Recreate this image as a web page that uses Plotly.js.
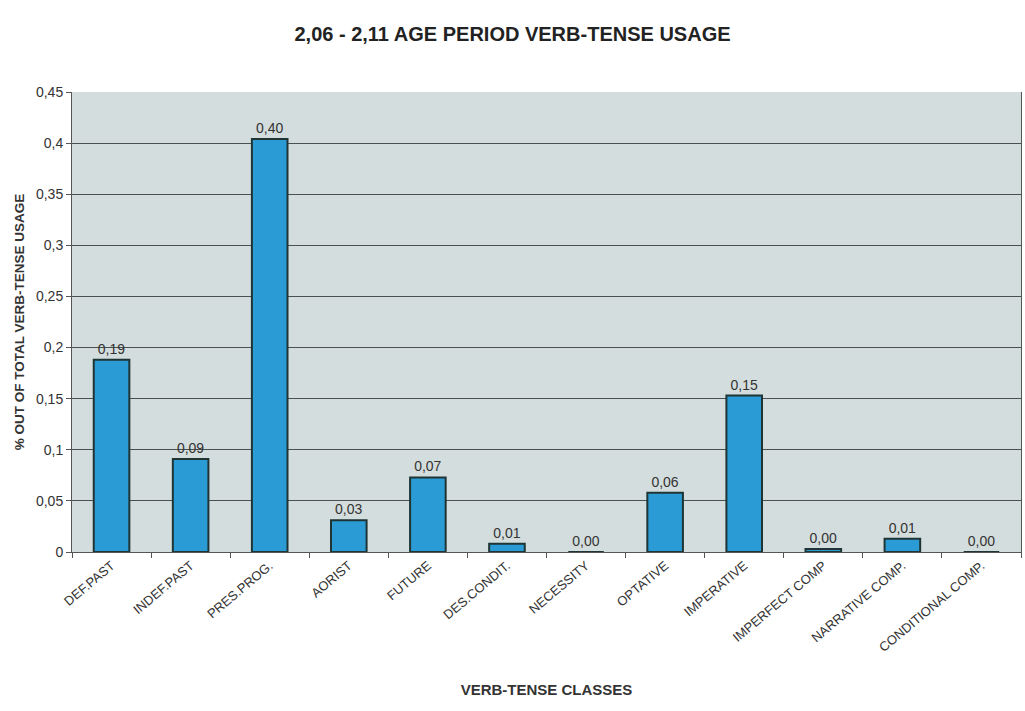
<!DOCTYPE html>
<html>
<head>
<meta charset="utf-8">
<script src="https://cdn.plot.ly/plotly-3.0.1.min.js"></script>
<style>html,body{margin:0;padding:0;background:#fff;}#chart{width:1025px;height:711px;}</style>
</head>
<body>
<div id="chart"></div>
<script>
const categories = ["DEF.PAST","INDEF.PAST","PRES.PROG.","AORIST","FUTURE","DES.CONDIT.","NECESSITY","OPTATIVE","IMPERATIVE","IMPERFECT COMP","NARRATIVE COMP.","CONDITIONAL COMP."];
const usage = [0.188, 0.091, 0.404, 0.031, 0.073, 0.008, 0.0, 0.058, 0.153, 0.003, 0.013, 0.0];
const yTicks = [0, 0.05, 0.1, 0.15, 0.2, 0.25, 0.3, 0.35, 0.4, 0.45];

const font = "Liberation Sans, Arial, sans-serif";
const trace = {
  type: "bar",
  x: categories,
  y: usage,
  marker: {color: "#2a9bd4", line: {color: "#1f3535", width: 2}},
  texttemplate: "%{y:.2f}",
  textposition: "outside",
  cliponaxis: false,
  textfont: {family: font, size: 14, color: "#333"},
  hoverinfo: "x+y"
};
const layout = {
  width: 1025, height: 711,
  margin: {l: 72, r: 4, t: 92, b: 159},
  paper_bgcolor: "#ffffff",
  plot_bgcolor: "#d3dddd",
  separators: ",.",
  bargap: 0.55,
  showlegend: false,
  title: {text: "<b>2,06 - 2,11 AGE PERIOD VERB-TENSE USAGE</b>", x: 0.5, xanchor: "center", y: 0.962, font: {family: font, size: 20, color: "#222"}},
  xaxis: {
    type: "category",
    tickangle: -40,
    tickfont: {family: font, size: 13, color: "#333"},
    ticks: "outside", tickson: "boundaries", ticklen: 5, tickcolor: "#555",
    showline: true, linecolor: "#555", linewidth: 1,
    title: {text: "<b>VERB-TENSE CLASSES</b>", standoff: 30, font: {family: font, size: 15, color: "#333"}}
  },
  yaxis: {
    range: [0, 0.45],
    tickvals: yTicks,
    tickfont: {family: font, size: 14, color: "#333"},
    showgrid: true, gridcolor: "#4a4f4f", gridwidth: 1,
    ticks: "outside", ticklen: 5, tickcolor: "#555",
    showline: true, linecolor: "#555", linewidth: 1, mirror: true,
    zeroline: false,
    title: {text: "<b>% OUT OF TOTAL VERB-TENSE USAGE</b>", standoff: 8, font: {family: font, size: 13.5, color: "#333"}}
  }
};
Plotly.newPlot("chart", [trace], layout, {displayModeBar: false, staticPlot: true});
</script>
</body>
</html>
